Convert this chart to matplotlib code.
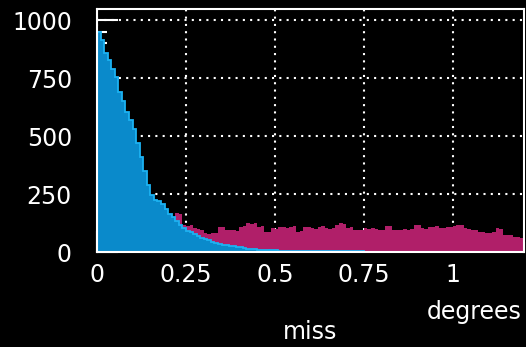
import numpy as np
import matplotlib
matplotlib.use("Agg")
import matplotlib.pyplot as plt
from matplotlib.ticker import MultipleLocator, FuncFormatter

# --- Histogram counts, 0.01 degree bins from 0 to 1.2 ---
bin_width = 0.01
x_max = 1.2

hit_counts = [
    950, 915, 860, 830, 790, 755, 690, 650, 605, 570,
    530, 470, 410, 350, 290, 245, 225, 218, 205, 185,
    165, 150, 135, 118, 105, 92, 85, 78, 70, 62,
    55, 50, 44, 40, 35, 32, 29, 27, 24, 22,
    20, 18, 15, 13, 12, 10, 9, 8, 8, 7,
    7, 6, 6, 6, 5, 5, 5, 5, 4, 4,
    4, 4, 4, 4, 3, 3, 3, 3, 3, 3,
    3, 3, 3, 3, 3, 2, 2, 2, 2, 2,
    2, 2, 2, 2, 2, 2, 2, 2, 2, 2,
    2, 2, 2, 2, 2, 2, 2, 2, 2, 2,
    1, 1, 1, 1, 1, 1, 1, 1, 1, 1,
    1, 1, 1, 1, 1, 1, 1, 1, 1, 1,
]

miss_counts = [
    60, 70, 75, 80, 85, 90, 95, 100, 105, 100,
    110, 105, 115, 110, 120, 115, 125, 120, 130, 125,
    135, 130, 168, 165, 118, 112, 116, 102, 100, 95,
    80, 78, 82, 80, 109, 108, 95, 93, 96, 90,
    109, 110, 124, 122, 126, 108, 110, 88, 86, 102,
    100, 109, 108, 102, 109, 110, 88, 90, 109, 107,
    102, 100, 109, 110, 102, 100, 104, 116, 124, 122,
    105, 109, 95, 93, 96, 102, 100, 104, 101, 95,
    94, 112, 110, 95, 96, 94, 98, 97, 99, 116,
    115, 102, 100, 109, 108, 110, 102, 103, 109, 108,
    110, 116, 118, 102, 100, 95, 96, 88, 86, 80,
    82, 88, 102, 100, 73, 72, 74, 66, 65, 59,
]

edges = np.arange(len(hit_counts) + 1) * bin_width

plt.rcParams['font.family'] = 'DejaVu Sans'
plt.rcParams['font.size'] = 17

fig = plt.figure(figsize=(5.26, 3.47), dpi=100, facecolor='black')
ax = fig.add_axes([97 / 526, 1 - 252 / 347, 427 / 526, 243 / 347], facecolor='black')

# magenta behind, blue in front
ax.stairs(miss_counts, edges, fill=True, color='#b01f69', zorder=2)
ax.stairs(hit_counts, edges, fill=True, color='#0a8acb', zorder=3)
ax.stairs(hit_counts, edges, fill=False, color='#1cb2f2', linewidth=1.3, zorder=4)

ax.set_xlim(0, x_max)
ax.set_ylim(0, 1048)

ax.xaxis.set_major_locator(MultipleLocator(0.25))
ax.xaxis.set_minor_locator(MultipleLocator(0.05))
ax.yaxis.set_major_locator(MultipleLocator(250))
ax.yaxis.set_minor_locator(MultipleLocator(50))
ax.xaxis.set_major_formatter(FuncFormatter(lambda v, p: '%g' % v))
ax.yaxis.set_major_formatter(FuncFormatter(lambda v, p: '%g' % v))

ax.tick_params(which='both', direction='in', colors='white', width=1.5, zorder=6)
ax.tick_params(which='major', length=15)
ax.tick_params(which='minor', length=7.5)
ax.tick_params(axis='y', which='major', pad=18)
ax.tick_params(axis='x', which='major', pad=8)

ax.grid(True, which='major', color='white', linestyle=(0, (1, 2.5)), linewidth=1.5, zorder=1)
ax.set_axisbelow(True)
for s in ax.spines.values():
    s.set_color('white')
    s.set_linewidth(1.5)
    s.set_zorder(7)

fig.text(522 / 526, 1 - 312 / 347, 'degrees', color='white', ha='right', va='center')
fig.text(310 / 526, 1 - 332 / 347, 'miss', color='white', ha='center', va='center')

fig.savefig('out.png', dpi=100, facecolor='black')
